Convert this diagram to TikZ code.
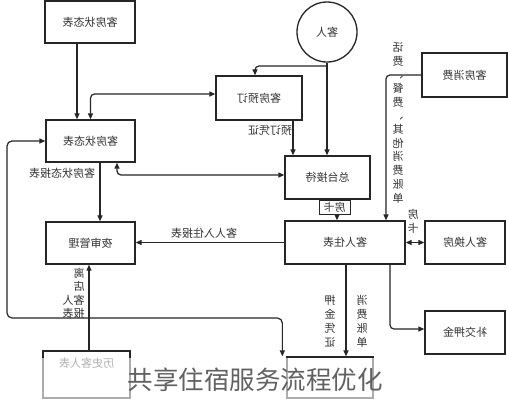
\documentclass[tikz,border=0pt]{standalone}
\usepackage{fontspec}
\newfontfamily\cjk{Noto Sans CJK SC}
\usetikzlibrary{arrows.meta,calc}
\begin{document}
\begin{tikzpicture}[x=1pt,y=-1pt,
  font=\cjk\fontsize{11}{13.5}\selectfont,
  box/.style={draw=black!85, line width=1.3pt, text=black!80, inner sep=0pt},
  ln/.style={draw=black!85, line width=1.2pt},
  arr/.style={ln, -{Triangle[length=6pt,width=5pt]}},
  arrr/.style={ln, {Triangle[length=6pt,width=5pt]}-{Triangle[length=6pt,width=5pt]}},
  flip/.style={xscale=-1, transform shape},
  lbl/.style={text=black!80, inner sep=0pt, flip}]
\useasboundingbox (0,0) rectangle (508,400);
\fill[white] (0,0) rectangle (508,400);

% boxes
\node[box, minimum width=90pt, minimum height=42pt] (sA) at (90,22) {\reflectbox{客房状态表}};
\node[box, minimum width=89pt, minimum height=42pt] (sB) at (90.5,141) {\reflectbox{客房状态表}};
\node[box, minimum width=86pt, minimum height=44pt] (yd) at (259,98) {\reflectbox{客房预订}};
\node[box, circle, minimum size=60pt] (kr) at (327,32) {\reflectbox{客人}};
\node[box, minimum width=85pt, minimum height=44pt] (xf) at (464.5,75) {\reflectbox{客房消费}};
\node[box, minimum width=85pt, minimum height=43pt] (zt) at (327.5,177.5) {\reflectbox{总台接待}};
\node[box, minimum width=120pt, minimum height=43pt] (rz) at (345,242.5) {\reflectbox{客人住表}};
\node[box, minimum width=80pt, minimum height=43pt] (hf) at (465,242.5) {\reflectbox{客人换房}};
\node[box, minimum width=89pt, minimum height=42pt] (ys) at (90.5,243) {\reflectbox{夜审管理}};
\node[box, minimum width=80pt, minimum height=43pt] (bj) at (465,332.5) {\reflectbox{补交押金}};
\node[box, minimum width=87pt, minimum height=47pt] (ls) at (86.5,374.5) {};
\node[lbl] (lst) at (86.5,363) {历史客人表};
\node[box, minimum width=86pt, minimum height=41pt] (bt) at (330,377.5) {};

% connectors
\draw[arr] ([xshift=-13pt]sA.south) -- ([xshift=-13.5pt]sB.north);
\draw[arrr, rounded corners=4pt] ([yshift=4pt]yd.west) -| (sB.north);
\coordinate (br) at (327,66);
\draw[arr] (kr.south) -- (kr.south |- zt.north);
\draw[arr, rounded corners=4pt] (br) -| ([xshift=-4pt]yd.north);
\draw[arr] ([xshift=34pt]yd.south) -- ([xshift=34pt]yd.south |- zt.north);
\draw[arrr, rounded corners=4pt] ([yshift=2.5pt]zt.west) -| ([xshift=26.5pt]sB.south);
\draw[arr] ([xshift=9.5pt]sB.south) -- ([xshift=9.5pt]ys.north);
\draw[arr] (rz.west) -- (rz.west -| ys.east);
\draw[arr] ([xshift=9.5pt]zt.south) -- ([xshift=9.5pt]zt.south |- rz.north);
\draw[arr, rounded corners=4pt] (xf.west) -| ([xshift=41pt]rz.north);
\draw[arrr] (rz.east) -- (hf.west);
\draw[arr] ([xshift=1pt]rz.south) -- ([xshift=1pt]rz.south |- bt.north);
\draw[arr, rounded corners=4pt] ([xshift=45pt]rz.south) |- ([yshift=3.5pt]bj.west);
\coordinate (lp) at (7,318);
\draw[arrr, rounded corners=5pt] (sB.west) -| (lp) -| ([xshift=-4pt]bt.north west);
\draw[arr] ([xshift=2.5pt]ls.north) -- ([xshift=2.5pt]ls.north |- ys.south);

% labels
\node[lbl, draw=black!85, line width=0.9pt, fill=white, minimum width=31pt, minimum height=14pt] (fk) at (334.5,207) {房卡};
\node[lbl] (l1) at (270,130) {预订凭证};
\node[lbl] (l2) at (62,173) {客房状态报表};
\node[lbl] (l3) at (204,233) {客人入住报表};
\node[lbl, align=center, font=\cjk\fontsize{11}{13.7}\selectfont] (l4) at (398,122.5) {话\\费\\、\\餐\\费\\、\\其\\他\\消\\费\\账\\单};
\node[lbl, align=center, font=\cjk\fontsize{11}{14}\selectfont] (l5) at (413,221) {房\\卡};
\node[lbl, align=center, font=\cjk\fontsize{11}{14}\selectfont] (l6) at (330,321) {押\\金\\凭\\证};
\node[lbl, align=center, font=\cjk\fontsize{11}{14}\selectfont] (l7) at (362,321) {消\\费\\账\\单};
\node[lbl, align=left, font=\cjk\fontsize{11}{13.5}\selectfont] (l8) at (73.5,293.5) {离\\店\\客人\\报表};

% caption overlay
\fill[white, opacity=0.62] (0,357.5) rectangle (508,400);
\node[text=black!62, inner sep=0pt, font=\cjk\fontsize{25.5}{28}\selectfont] (cap) at (255,380) {共享住宿服务流程优化};
\end{tikzpicture}
\end{document}
